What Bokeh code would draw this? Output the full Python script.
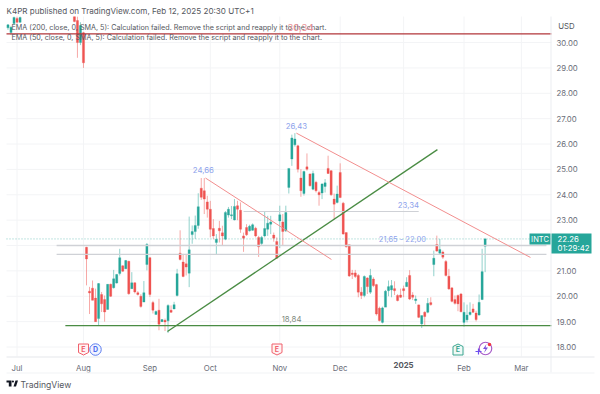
from bokeh.plotting import figure
from bokeh.models import Label, FixedTicker, Range1d, NumeralTickFormatter, BoxAnnotation
from bokeh.core.properties import value
from bokeh.embed import file_html
from bokeh.resources import INLINE

O = [21.93,20.20,20.32,19.93,19.12,20.07,19.87,19.48,20.47,20.34,
20.52,20.90,21.20,21.08,21.38,20.30,20.53,20.14,20.00,19.77,
21.25,21.52,19.75,19.28,19.45,19.00,19.05,19.03,19.45,19.50,
20.03,21.70,21.35,21.28,20.91,22.43,22.55,22.79,24.26,24.16,
23.72,23.43,22.67,22.12,22.68,22.50,22.25,23.20,23.17,23.01,
23.57,23.39,22.38,22.71,22.58,22.60,22.68,22.32,22.08,22.38,
22.64,22.84,22.41,22.16,22.97,22.93,22.58,24.29,25.41,25.97,
25.93,24.66,24.05,25.10,24.82,24.22,24.49,24.09,24.07,24.33,
25.04,24.95,23.83,23.70,24.88,23.67,22.51,22.03,20.91,20.92,
20.82,20.16,20.03,20.72,20.16,20.68,20.46,19.53,18.97,19.57,
20.22,20.25,20.30,20.03,20.05,20.30,20.38,20.82,20.05,19.83,
19.66,18.91,19.37,19.37,19.75,21.25,22.04,21.70,21.74,21.37,
20.79,20.33,19.87,20.03,20.09,18.97,19.07,19.28,19.50,19.34,
19.26,19.87,21.97]
C = [21.47,20.13,19.84,19.00,20.50,19.70,19.38,20.47,20.00,20.69,
20.86,21.52,20.99,21.41,20.10,20.53,20.17,20.07,19.60,20.14,
22.04,20.07,19.45,19.40,18.90,19.08,18.99,19.64,19.37,19.67,
20.89,21.45,20.78,21.15,21.83,22.55,22.79,23.53,23.90,23.83,
23.43,22.64,22.38,22.25,22.58,22.38,23.30,23.43,23.21,23.54,
23.43,22.64,22.29,22.42,22.76,22.82,22.38,21.95,22.32,22.67,
22.88,22.93,22.29,21.50,23.21,22.55,23.30,25.04,26.24,26.20,
25.01,24.16,24.92,25.01,24.36,24.84,24.16,24.00,24.42,24.47,
24.84,24.00,23.63,24.03,23.89,22.45,21.95,20.80,20.86,20.78,
20.16,20.03,20.78,20.38,20.82,20.42,19.30,19.04,19.54,20.20,
20.38,20.42,20.22,19.83,19.96,20.22,20.55,19.89,19.96,19.89,
19.17,19.24,19.20,19.72,19.67,21.50,21.78,21.84,21.54,20.82,
20.29,19.80,19.72,19.70,19.39,19.37,19.26,19.37,19.37,19.08,
19.76,20.97,22.26]
H = [21.95,20.37,20.62,20.30,20.52,20.17,20.03,20.47,20.50,21.04,
20.88,21.87,21.22,21.43,21.40,20.95,20.55,20.20,20.08,20.60,
22.10,21.55,19.82,19.44,19.90,19.09,19.12,19.68,19.64,19.78,
21.08,22.60,21.67,21.67,23.14,22.79,23.18,24.06,24.66,24.66,
23.96,23.76,23.04,22.45,22.97,22.78,23.36,23.52,23.56,23.83,
23.76,23.70,22.51,22.84,22.82,22.87,22.74,22.38,22.38,23.34,
23.17,23.17,22.51,22.32,23.57,23.24,23.57,25.04,26.37,26.43,
25.97,25.01,24.95,25.63,24.84,24.95,24.55,24.16,24.46,24.62,
25.54,24.97,24.05,24.36,25.24,23.72,22.51,22.03,21.04,21.04,
20.88,20.36,20.82,20.75,21.08,20.75,20.49,19.59,19.59,20.25,
20.62,20.64,20.59,20.08,20.30,20.42,20.75,21.03,20.16,20.03,
19.67,19.24,19.41,19.93,19.96,21.80,22.39,22.26,21.80,21.43,
21.08,20.36,20.03,20.07,20.13,19.76,19.67,19.76,19.70,19.43,
20.07,21.87,22.30]
L = [20.43,19.30,19.84,19.00,18.86,19.38,19.00,19.48,19.97,20.30,
20.50,20.82,20.96,21.08,20.06,20.30,20.11,20.03,19.55,19.77,
21.02,19.97,19.32,19.28,18.66,19.00,18.63,18.55,19.34,19.49,
19.99,21.41,20.75,20.82,20.36,22.07,22.26,22.66,23.80,23.24,
23.10,22.32,22.25,21.63,22.12,22.00,22.21,23.10,23.04,22.99,
23.00,22.50,21.75,22.38,22.55,22.58,22.32,21.55,21.99,22.32,
22.38,22.45,22.15,21.47,21.90,21.99,22.53,24.05,25.14,25.90,
24.88,23.92,23.97,24.95,24.32,24.18,24.09,23.57,23.83,24.09,
24.82,23.96,23.04,23.66,23.87,22.43,21.92,20.76,20.68,20.72,
19.96,19.89,19.96,20.09,20.09,20.36,19.24,19.01,18.93,20.17,
20.00,19.96,20.05,19.80,19.93,19.96,20.38,19.85,19.85,19.70,
19.14,18.75,18.83,19.33,19.63,20.79,21.75,21.67,21.47,20.78,
20.25,19.76,19.67,19.41,19.37,18.80,18.97,19.24,19.34,19.01,
19.24,19.85,20.95]
# last July candles, just visible at the top of the pane
PRE_I = [-26,-25,-24,-23,-22,-4,-3,-2,-1]
PRE_O = [30.58,30.40,30.75,30.95,30.80,31.02,30.87,30.00,30.39]
PRE_C = [30.70,30.60,30.99,30.80,30.99,30.83,30.00,30.67,29.20]
PRE_H = [30.72,30.66,31.02,31.02,31.02,31.02,31.02,30.80,30.42]
PRE_L = [30.50,30.30,30.70,30.75,30.78,30.80,29.40,29.90,29.00]

MONTHS = ["Jul","Aug","Sep","Oct","Nov","Dec","2025","Feb","Mar"]
MONTH_I = [-23,-1,21,41,64,84,105,125,144]
PRICES = [18,19,20,21,22,23,24,25,26,27,28,29,30]
LAST = 22.26
RES_LEVEL = 30.34
LEVEL_HI, LEVEL_LO, LEVEL_MID, LEVEL_SUP = 22.00, 21.65, 23.34, 18.84

W, H_PX = 600, 394
X0, SP = 86.0, 3.02
FL, FR, FT, FB, FB2, FR2 = 6, 551, 16, 356, 372, 594
P18, PP = 346.5, 25.37
ix = lambda px: (px-X0)/SP
pr = lambda py: 18+(P18-py)/PP

p = figure(width=W, height=H_PX, output_backend="svg", toolbar_location=None,
           x_range=Range1d(ix(0), ix(W)), y_range=Range1d(pr(H_PX), pr(0)),
           y_axis_location="right", min_border_left=0, min_border_right=0,
           min_border_top=0, min_border_bottom=0, outline_line_color=None)
p.xgrid.visible = False
p.ygrid.visible = False
p.xaxis.ticker = FixedTicker(ticks=MONTH_I)
p.xaxis.major_label_overrides = {i: (m if m != "2025" else " ") for i, m in zip(MONTH_I, MONTHS)}
p.yaxis.ticker = FixedTicker(ticks=[t for t in PRICES if t != 22])
p.yaxis.formatter = NumeralTickFormatter(format="0.00")
p.xaxis.fixed_location = pr(FB)
p.yaxis.fixed_location = ix(FR-1)
p.xaxis.bounds = (ix(FL), ix(FR2))
p.yaxis.bounds = (pr(FB2), pr(0))
for ax in (p.xaxis[0], p.yaxis[0]):
    ax.major_tick_line_color = None
    ax.minor_tick_line_color = None
    ax.axis_line_color = None
    ax.major_label_text_color = "#6a6d78"
    ax.major_label_text_font = "Inter"
    ax.major_label_text_font_size = "7.8px"
p.xaxis.major_label_standoff = 0
p.yaxis.major_label_standoff = 0

GRID = "#f3f4f6"
p.segment(MONTH_I, [pr(FT)]*len(MONTH_I), MONTH_I, [pr(FB)]*len(MONTH_I), line_color=GRID, line_width=1, level="underlay")
p.segment([ix(FL)]*len(PRICES), PRICES, [ix(FR)]*len(PRICES), PRICES, line_color=GRID, line_width=1, level="underlay")

UP, DOWN = "#26a69a", "#ef5350"
I = list(range(len(O)))
XS = PRE_I + I
OS, CS, HS, LS = PRE_O + O, PRE_C + C, PRE_H + H, PRE_L + L
cols = [UP if c >= o else DOWN for o, c in zip(OS, CS)]
p.segment(XS, HS, XS, LS, line_color=cols, line_alpha=0.5, line_width=1)
p.vbar(x=XS, top=[max(a, b) for a, b in zip(OS, CS)], bottom=[min(a, b) for a, b in zip(OS, CS)],
       width=0.72, fill_color=cols, line_color=cols, line_width=0.3)

# drawings
END = ix(FR)
GREY = "#cfd1d6"
p.line([-9.9, 152.3], [LEVEL_HI]*2, line_color=GREY, line_width=1.3)
p.line([-9.9, 152.3], [LEVEL_LO]*2, line_color=GREY, line_width=1.3)
p.line([52, 110], [LEVEL_MID]*2, line_color=GREY, line_width=1.1)
p.line([ix(FL), END], [LAST]*2, line_color=UP, line_width=0.8, line_dash="1 2", line_alpha=0.7)
p.line([-7, END], [LEVEL_SUP]*2, line_color="#4a8c44", line_width=1.3)
p.line([26.8, 116.2], [18.61, 25.78], line_color="#4a8c44", line_width=1.3)
p.line([39.4, 81.1], [24.66, 21.45], line_color="#f28e8e", line_width=1)
p.line([69.5, 147], [26.43, 21.53], line_color="#f28e8e", line_width=1)
p.line([ix(FL), END], [RES_LEVEL]*2, line_color="#b2363a", line_width=1.2)

def scr(x, y, txt, size=7.8, color="#6a6d78", align="left", style="normal", font="Inter"):
    p.add_layout(Label(x=x, y=H_PX-y, x_units="screen", y_units="screen", text=txt,
                       text_font=font, text_font_size=f"{size}px", text_color=color,
                       text_align=align, text_baseline="middle", text_font_style=style))

def box(l, r, t, b, color):
    p.add_layout(BoxAnnotation(left=l, right=r, top=H_PX-t, bottom=H_PX-b,
                 left_units="screen", right_units="screen", top_units="screen", bottom_units="screen",
                 fill_color=color, fill_alpha=1, line_color=None))

def poly(points, fill, line=None, lw=1):
    p.patch([ix(a) for a, b in points], [pr(b) for a, b in points], fill_color=fill, line_color=line, line_width=lw)

def data_label(i, price, txt, color="#8ea3ec", size=7.8):
    p.add_layout(Label(x=i, y=price, text=txt, text_font="Inter", text_font_size=f"{size}px",
                       text_color=color, text_align="center", text_baseline="middle"))

data_label(69.5, 26.72, "26,43")
data_label(38.7, 24.98, "24,66")
data_label(106.6, 23.6, "23,34")
data_label(104.6, 22.22, "21,65 - 22,00", size=7.5)
data_label(67.9, 19.12, "18,84", "#7f8a80")

# events
EV_Y = 17.90
def shield(cx, flip, fill, line, txt):
    s = -1 if flip else 1
    poly([(cx+a, 349+s*b) for a, b in [(-5,-5.5),(5,-5.5),(5,3),(0,5.5),(-5,3)]], fill, line)
    p.text([ix(cx)], [EV_Y], text=[txt], text_color=line, text_font=value("Inter"), text_font_size="7px",
           text_align="center", text_baseline="middle", text_font_style="bold")
shield(83, False, "#fff3f3", "#f0616d", "E")
shield(276.5, False, "#fff3f3", "#f0616d", "E")
shield(457.5, True, "#f0faf7", "#3aa58f", "E")
p.scatter([ix(95)], [EV_Y], marker="circle", size=11.5, fill_color="#f1f4ff", line_color="#5b7cf0", line_width=1)
p.text([ix(95)], [EV_Y], text=["D"], text_color="#4a6cf0", text_font=value("Inter"), text_font_size="7px",
       text_align="center", text_baseline="middle", text_font_style="bold")
p.scatter([ix(485)], [pr(348)], marker="circle", size=12.5, fill_color="#ffffff", line_color="#a75bc9", line_width=1.2)
poly([(486,343.5),(482.5,348.5),(485,348.5),(483.5,352.5),(487.5,347),(485,347)], "#7a4fe0")
p.scatter([ix(489)], [pr(344)], marker="circle", size=3.5, fill_color="#f23645", line_color=None)
p.scatter([ix(478)], [pr(351)], marker="cross", size=6, line_color="#6d4ff0", line_width=1.2)

# chrome
box(FR-1, FR, FT, FB2, "#eceef2")
box(FL, FR2, FB, FB+1, "#e6e8ec")
box(FL, FR2, FB2, FB2+1, "#f2f3f5")
box(529, 550, 233, 244, UP)
box(551, 591, 233, 253, UP)
scr(6, 10, "K4PR published on TradingView.com, Feb 12, 2025 20:30 UTC+1", 8.1, "#555860")
scr(11, 27, "EMA (200, close, 0, SMA, 5): Calculation failed. Remove the script and reapply it to the chart.", 7.2, "#555860")
scr(11, 37, "EMA (50, close, 0, SMA, 5): Calculation failed. Remove the script and reapply it to the chart.", 7.2, "#555860")
scr(300, 27, "30,34", 9.5, "#ea8f95", "center")
scr(566, 25, "USD", 7.8, "#555860", "center")
scr(539.5, 238.5, "INTC", 7.5, "#ffffff", "center")
scr(557, 238.5, "22.26", 7.8, "#ffffff")
scr(557, 247.5, "01:29:42", 7.8, "#ffffff")
scr(403, 364, "2025", 7.8, "#555860", "center", "bold")
# TradingView logo
poly([(6,380),(11,380),(11,386),(8.3,386),(8.3,382),(6,382)], "#131722")
poly([(13,386),(15,380),(17.5,380),(15.5,386)], "#131722")
p.scatter([ix(12.4)], [pr(381)], marker="circle", size=2.2, fill_color="#131722", line_color=None)
scr(20, 384, "TradingView", 8.6, "#555860")

assert len(O) == len(C) == len(H) == len(L) == 133
open("out.html", "w").write(file_html(p, INLINE))
